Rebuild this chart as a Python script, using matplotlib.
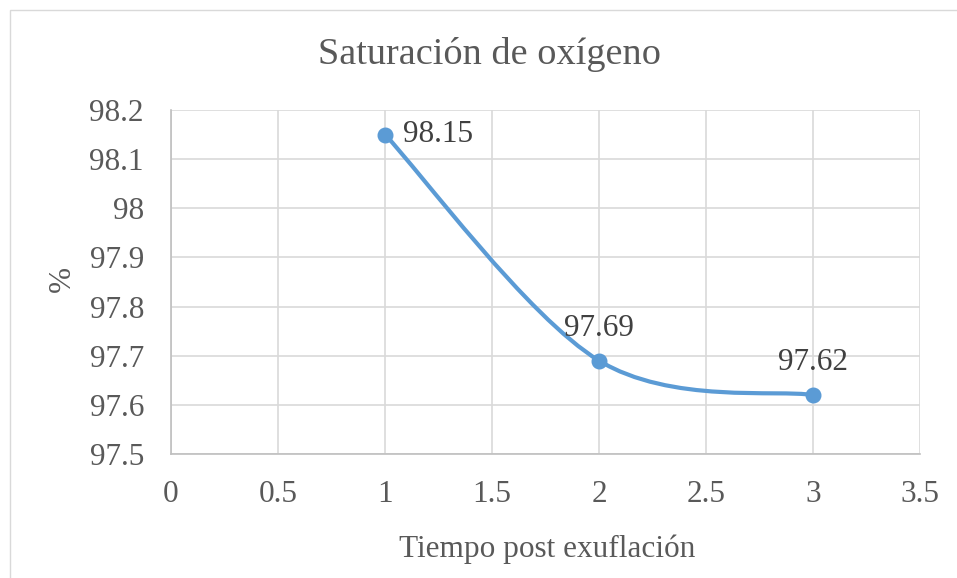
import matplotlib
matplotlib.use('Agg')
import matplotlib.pyplot as plt
from matplotlib.path import Path
from matplotlib.patches import PathPatch, Rectangle

# data
tiempo = [1, 2, 3]
saturacion = [98.15, 97.69, 97.62]
x_ticks = [0, 0.5, 1, 1.5, 2, 2.5, 3, 3.5]
x_tick_labels = ['0', '0.5', '1', '1.5', '2', '2.5', '3', '3.5']
y_ticks = [97.5, 97.6, 97.7, 97.8, 97.9, 98.0, 98.1, 98.2]
y_tick_labels = ['97.5', '97.6', '97.7', '97.8', '97.9', '98', '98.1', '98.2']
title = 'Saturación de oxígeno'
x_label = 'Tiempo post exuflación'
y_label = '%'

line_color = '#5B9BD5'
text_color = '#595959'
label_color = '#404040'
grid_color = '#D9D9D9'

plt.rcParams['font.family'] = ['Liberation Serif', 'DejaVu Serif']

fig = plt.figure(figsize=(9.57, 5.78), dpi=100)
W, H = 957, 578

# outer chart border (cropped by image edges)
fig.patches.append(Rectangle((10 / W, -0.1), 1.2, 1 - 10 / H + 0.1, transform=fig.transFigure,
                             fill=False, edgecolor='#D9D9D9', linewidth=1.0))

ax = fig.add_axes([171 / W, 1 - 454 / H, (920 - 171) / W, (454 - 110) / H])
ax.set_xlim(0, 3.5)
ax.set_ylim(97.5, 98.2)
ax.set_xticks(x_ticks)
ax.set_xticklabels(x_tick_labels)
ax.set_yticks(y_ticks)
ax.set_yticklabels(y_tick_labels)
ax.tick_params(length=0, labelsize=22.5, colors=text_color)
ax.tick_params(axis='y', pad=19.5)
ax.tick_params(axis='x', pad=19)
ax.grid(True, color=grid_color, linewidth=1.2)
ax.set_axisbelow(True)
for side in ['top', 'right']:
    ax.spines[side].set_visible(False)
for side in ['left', 'bottom']:
    ax.spines[side].set_color('#BFBFBF')
    ax.spines[side].set_linewidth(1.2)


# smoothed line, Excel-like Bezier segments
def smooth_path(xs, ys):
    pts = list(zip(xs, ys))
    n = len(pts)
    verts = [pts[0]]
    codes = [Path.MOVETO]
    for i in range(n - 1):
        p0 = pts[max(i - 1, 0)]
        p1 = pts[i]
        p2 = pts[i + 1]
        p3 = pts[min(i + 2, n - 1)]
        c1 = (p1[0] + (p2[0] - p0[0]) / 6, p1[1] + (p2[1] - p0[1]) / 6)
        c2 = (p2[0] - (p3[0] - p1[0]) / 6, p2[1] - (p3[1] - p1[1]) / 6)
        verts += [c1, c2, p2]
        codes += [Path.CURVE4] * 3
    return Path(verts, codes)


ax.add_patch(PathPatch(smooth_path(tiempo, saturacion), fill=False,
                       edgecolor=line_color, linewidth=3, capstyle='round', zorder=3))
ax.plot(tiempo, saturacion, linestyle='none', marker='o', markersize=10.5,
        color=line_color, zorder=4)

# data labels
ax.annotate('98.15', (tiempo[0], saturacion[0]), xytext=(13, 0), textcoords='offset points',
            ha='left', va='center', fontsize=22.5, color=label_color)
for x, y in zip(tiempo[1:], saturacion[1:]):
    ax.annotate('{:.2f}'.format(y), (x, y), xytext=(0, 13), textcoords='offset points',
                ha='center', va='bottom', fontsize=22.5, color=label_color)

fig.text(490 / W, 1 - 55 / H, title, ha='center', va='center', fontsize=27.5, color=text_color)
fig.text(547 / W, 1 - 549 / H, x_label, ha='center', va='center', fontsize=22.5, color=text_color)
fig.text(62 / W, 1 - 279 / H, y_label, ha='center', va='center', rotation=90,
         fontsize=22.5, color=text_color)

fig.savefig('out.png', dpi=100, facecolor='white')
